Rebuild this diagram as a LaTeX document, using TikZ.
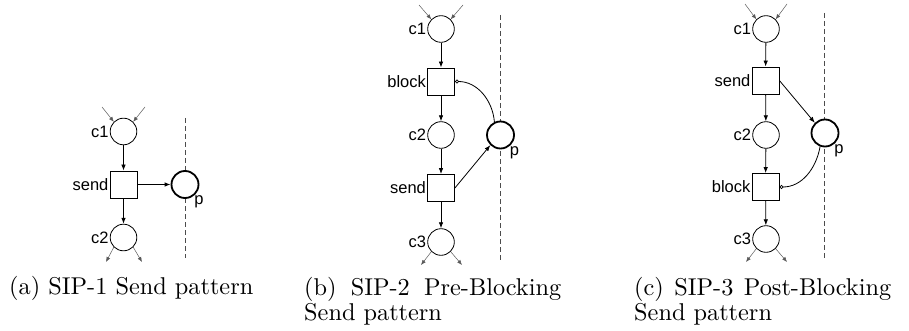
\documentclass[tikz,border=0pt]{standalone}
\usepackage{fontspec}
\newfontfamily\lab{Liberation Sans}
\newfontfamily\capfont{lmroman10-regular.otf}
\usetikzlibrary{arrows.meta}
\begin{document}
\begin{tikzpicture}[x=1pt,y=-1pt,
 place/.style={circle,draw,fill=white,line width=0.8pt,minimum size=26.6pt,inner sep=0pt},
 chan/.style={circle,draw,fill=white,line width=1.8pt,minimum size=27pt,inner sep=0pt},
 trans/.style={rectangle,draw,fill=white,line width=0.8pt,minimum size=27pt,inner sep=0pt},
 lbl/.style={font=\lab\fontsize{16.5}{18}\selectfont,inner sep=1pt},
 arc/.style={-{Latex[length=6pt,width=4.5pt]},line width=0.8pt},
 thinarc/.style={-{Latex[length=5pt,width=4pt]},line width=0.5pt,draw=black!65},
 inh/.style={-{Circle[open,length=4pt,width=4pt,line width=0.7pt]},line width=0.8pt},
 sepline/.style={line width=0.8pt,draw=black!70,dash pattern=on 5pt off 3pt},
 captxt/.style={font=\capfont\fontsize{24.3}{25.5}\selectfont,inner sep=0pt,text width=257pt,align=justify}]
\useasboundingbox (0,0) rectangle (909,331);

% ---------- (a) ----------
\coordinate (dat) at (185,118); \coordinate (dab) at (185,258);
\draw[sepline] (dat) -- (dab);
\node[place] (ac1) at (123.5,131.5) {};
\node[trans] (asend) at (123.5,184.5) {};
\node[place] (ac2) at (123.5,237.5) {};
\node[chan] (ap) at (185,184.5) {};
\node[lbl,anchor=east] (lac1) at (ac1.west) {c1};
\node[lbl,anchor=east] (lasend) at (asend.west) {send};
\node[lbl,anchor=east] (lac2) at (ac2.west) {c2};
\node[lbl,anchor=north west] (lap) at ([xshift=-2pt]ap.south east) {p};
\coordinate (ai1) at (102,107); \coordinate (ai2) at (145,107);
\coordinate (ao1) at (106,262); \coordinate (ao2) at (142,262);
\draw[thinarc] (ai1) -- (ac1.135);
\draw[thinarc] (ai2) -- (ac1.45);
\draw[thinarc] (ac2.225) -- (ao1);
\draw[thinarc] (ac2.315) -- (ao2);
\draw[arc] (ac1) -- (asend);
\draw[arc] (asend) -- (ac2);
\draw[arc] (asend) -- (ap);
\node[captxt,anchor=base west] (capa) at (9,294) {(a) SIP-1 Send pattern};

% ---------- (b) ----------
\coordinate (dbt) at (500,15); \coordinate (dbb) at (500,260);
\draw[sepline] (dbt) -- (dbb);
\node[place] (bc1) at (441,29) {};
\node[trans] (bblock) at (441,81.5) {};
\node[place] (bc2) at (441,135) {};
\node[chan] (bp) at (500.5,135) {};
\node[trans] (bsend) at (441,188) {};
\node[place] (bc3) at (441,242) {};
\node[lbl,anchor=east] (lbc1) at (bc1.west) {c1};
\node[lbl,anchor=east] (lbblock) at (bblock.west) {block};
\node[lbl,anchor=east] (lbc2) at (bc2.west) {c2};
\node[lbl,anchor=east] (lbsend) at (bsend.west) {send};
\node[lbl,anchor=east] (lbc3) at (bc3.west) {c3};
\node[lbl,anchor=north west] (lbp) at ([xshift=-2pt]bp.south east) {p};
\coordinate (bi1) at (419,5); \coordinate (bi2) at (463,5);
\coordinate (bo1) at (421,265); \coordinate (bo2) at (462,265);
\draw[thinarc] (bi1) -- (bc1.135);
\draw[thinarc] (bi2) -- (bc1.45);
\draw[thinarc] (bc3.225) -- (bo1);
\draw[thinarc] (bc3.315) -- (bo2);
\draw[arc] (bc1) -- (bblock);
\draw[arc] (bblock) -- (bc2);
\draw[arc] (bc2) -- (bsend);
\draw[arc] (bsend) -- (bc3);
\draw[inh] (bp.115) to[out=95,in=0] (bblock.east);
\draw[arc] (bsend.east) -- (bp.225);
\node[captxt,anchor=base west] (capb) at (304,295) {(b) SIP-2 Pre-Blocking\linebreak Send pattern};

% ---------- (c) ----------
\coordinate (dct) at (824,13); \coordinate (dcb) at (824,258);
\draw[sepline] (dct) -- (dcb);
\node[place] (cc1) at (766,29) {};
\node[trans] (csend) at (765.5,80.5) {};
\node[place] (cc2) at (766,135) {};
\node[chan] (cp) at (825,133) {};
\node[trans] (cblock) at (765.5,187) {};
\node[place] (cc3) at (766,239) {};
\node[lbl,anchor=east] (lcc1) at (cc1.west) {c1};
\node[lbl,anchor=east] (lcsend) at (csend.west) {send};
\node[lbl,anchor=east] (lcc2) at (cc2.west) {c2};
\node[lbl,anchor=east] (lcblock) at (cblock.west) {block};
\node[lbl,anchor=east] (lcc3) at (cc3.west) {c3};
\node[lbl,anchor=north west] (lcp) at ([xshift=-2pt]cp.south east) {p};
\coordinate (ci1) at (745,4); \coordinate (ci2) at (787,4);
\coordinate (co1) at (746,262); \coordinate (co2) at (787,262);
\draw[thinarc] (ci1) -- (cc1.135);
\draw[thinarc] (ci2) -- (cc1.45);
\draw[thinarc] (cc3.225) -- (co1);
\draw[thinarc] (cc3.315) -- (co2);
\draw[arc] (cc1) -- (csend);
\draw[arc] (csend) -- (cc2);
\draw[arc] (cc2) -- (cblock);
\draw[arc] (cblock) -- (cc3);
\draw[arc] (csend.east) -- (cp.135);
\draw[inh] (cp.250) to[out=-100,in=0] (cblock.east);
\node[captxt,anchor=base west] (capc) at (634,295) {(c) SIP-3 Post-Blocking\linebreak Send pattern};
\end{tikzpicture}
\end{document}
